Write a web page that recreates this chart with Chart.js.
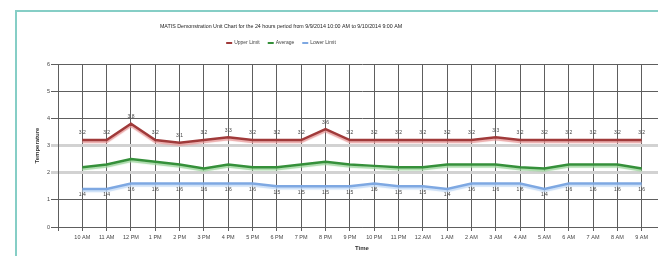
<!DOCTYPE html>
<html><head><meta charset="utf-8">
<script src="https://cdn.jsdelivr.net/npm/chart.js@4/dist/chart.umd.min.js"></script>
<style>
html,body{margin:0;padding:0;background:#fff;overflow:hidden;width:658px;height:256px;}
#frame{position:absolute;left:15px;top:10px;width:700px;height:300px;border-left:2px solid #86cec6;border-top:2px solid #86cec6;background:#fff;}
#c{position:absolute;left:0;top:0;}
</style></head><body>
<div id="frame"><canvas id="c" width="680" height="246"></canvas></div>
<script>
const chartTitle = 'MATIS Demonstration Unit Chart for the 24 hours period from 9/9/2014 10:00 AM to 9/10/2014 9:00 AM';
const xTitle = 'Time';
const yTitle = 'Temperature';
const timeLabels = ['10 AM','11 AM','12 PM','1 PM','2 PM','3 PM','4 PM','5 PM','6 PM','7 PM','8 PM','9 PM',
                    '10 PM','11 PM','12 AM','1 AM','2 AM','3 AM','4 AM','5 AM','6 AM','7 AM','8 AM','9 AM'];
const seriesNames = ['Upper Limit','Average','Lower Limit'];
const upperValues   = [3.2,3.2,3.8,3.2,3.1,3.2,3.3,3.2,3.2,3.2,3.6,3.2,3.2,3.2,3.2,3.2,3.2,3.3,3.2,3.2,3.2,3.2,3.2,3.2];
const averageValues = [2.2,2.3,2.5,2.4,2.3,2.15,2.3,2.2,2.2,2.3,2.4,2.3,2.25,2.2,2.2,2.3,2.3,2.3,2.2,2.15,2.3,2.3,2.3,2.15];
const lowerValues   = [1.4,1.4,1.6,1.6,1.6,1.6,1.6,1.6,1.5,1.5,1.5,1.5,1.6,1.5,1.5,1.4,1.6,1.6,1.6,1.4,1.6,1.6,1.6,1.6];
const yMin = 0, yMax = 6, yStep = 1;
const bandTicks = [2, 3];

const toXY = arr => arr.map((v, i) => ({x: i, y: v}));
const FONT = '"Liberation Sans", Arial, sans-serif';

const valueLabels = {
  id: 'valueLabels',
  afterDatasetsDraw(chart) {
    const ctx = chart.ctx;
    ctx.save();
    ctx.font = '5px ' + FONT;
    ctx.fillStyle = '#444';
    ctx.textAlign = 'center';
    ctx.textBaseline = 'middle';
    chart.data.datasets.forEach((ds, di) => {
      const off = ds.labelOffset;
      if (!off) return;
      chart.getDatasetMeta(di).data.forEach((pt, i) => {
        ctx.fillText(String(ds.data[i].y), pt.x, pt.y + off);
      });
    });
    ctx.restore();
  }
};

const lineShadow = {
  id: 'lineShadow',
  beforeDatasetDraw(chart, args) {
    const ds = chart.data.datasets[args.index];
    const ctx = chart.ctx;
    ctx.save();
    ctx.shadowColor = ds.glowColor || 'transparent';
    ctx.shadowOffsetY = 2;
    ctx.shadowBlur = 1;
  },
  afterDatasetDraw(chart) { chart.ctx.restore(); }
};

const headerPlugin = {
  id: 'header',
  afterDraw(chart) {
    const ctx = chart.ctx;
    ctx.save();
    ctx.fillStyle = '#222';
    ctx.textBaseline = 'middle';
    ctx.textAlign = 'center';
    ctx.font = '5.3px ' + FONT;
    const cx = 264;
    ctx.fillText(chartTitle, cx, 15);
    ctx.font = '5px ' + FONT;
    const items = chart.data.datasets.map(ds => ({label: ds.label, color: ds.borderColor, w: ctx.measureText(ds.label).width}));
    const mk = 6, gap = 2, sp = 8;
    let total = items.reduce((s, it) => s + mk + gap + it.w, 0) + sp * (items.length - 1);
    let x = cx - total / 2;
    ctx.textAlign = 'left';
    items.forEach(it => {
      ctx.strokeStyle = it.color;
      ctx.lineWidth = 2;
      ctx.beginPath(); ctx.moveTo(x, 31); ctx.lineTo(x + mk, 31); ctx.stroke();
      ctx.fillStyle = '#444';
      ctx.fillText(it.label, x + mk + gap, 31);
      x += mk + gap + it.w + sp;
    });
    ctx.restore();
  }
};

new Chart(document.getElementById('c'), {
  type: 'line',
  data: {
    datasets: [
      {label: seriesNames[0], data: toXY(upperValues), borderColor: '#a03a3a', glowColor: 'rgba(230,150,150,0.8)', borderWidth: 2.5, pointRadius: 0, labelOffset: -7},
      {label: seriesNames[1], data: toXY(averageValues), borderColor: '#35903a', glowColor: 'rgba(150,210,150,0.8)', borderWidth: 2.5, pointRadius: 0},
      {label: seriesNames[2], data: toXY(lowerValues), borderColor: '#7ea8e2', glowColor: 'rgba(190,215,245,0.8)', borderWidth: 2.5, pointRadius: 0, labelOffset: 6}
    ]
  },
  options: {
    responsive: false,
    animation: false,
    layout: {padding: {top: 52, left: 0, right: 31, bottom: 0}},
    plugins: {legend: {display: false}, title: {display: false}, tooltip: {enabled: false}},
    scales: {
      x: {
        type: 'linear', min: -1, max: 24,
        afterFit: s => { s.height = 31; },
        ticks: {stepSize: 1, autoSkip: false, maxRotation: 0, padding: 3, color: '#444',
                font: {size: 5.5, family: FONT},
                callback: v => (timeLabels[v] !== undefined ? timeLabels[v] : '')},
        grid: {color: '#5e5e5e', lineWidth: 1, tickLength: 4},
        border: {color: '#5e5e5e'},
        title: {display: true, text: xTitle, color: '#333', font: {size: 6, family: FONT, weight: 'bold'}, padding: {top: 0, bottom: 6}}
      },
      y: {
        min: yMin, max: yMax,
        afterFit: s => { s.width = 41; },
        ticks: {stepSize: yStep, padding: 1, color: '#444', font: {size: 5.5, family: FONT}},
        grid: {
          color: c => (c.tick && bandTicks.includes(c.tick.value)) ? '#d2d2d2' : '#5e5e5e',
          lineWidth: c => (c.tick && bandTicks.includes(c.tick.value)) ? 3 : 1,
          tickLength: 7
        },
        border: {color: '#5e5e5e'},
        title: {display: true, text: yTitle, color: '#333', font: {size: 6, family: FONT, weight: 'bold'}, padding: {top: 17, bottom: 0}}
      }
    }
  },
  plugins: [lineShadow, valueLabels, headerPlugin]
});
</script>
</body></html>
